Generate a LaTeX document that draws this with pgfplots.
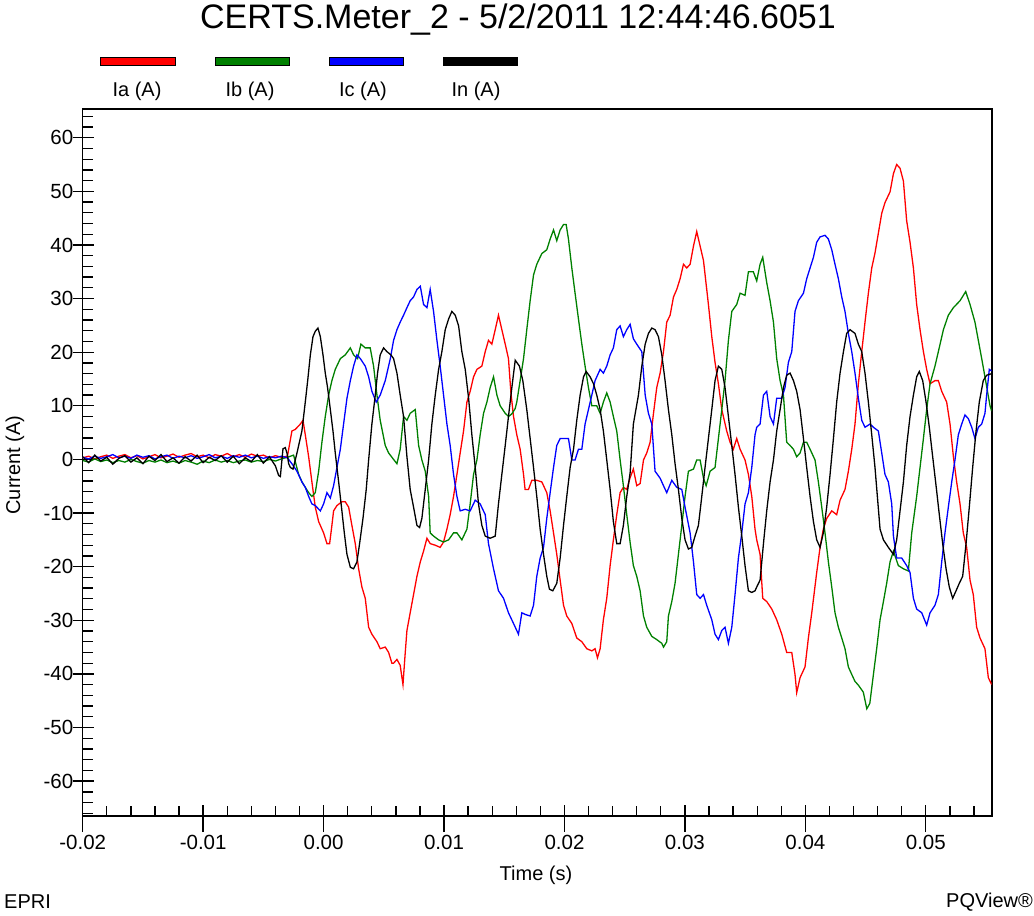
\documentclass[border=0pt]{standalone}
\usepackage{pgfplots}
\usepackage{pgfplotstable}
\pgfplotsset{compat=1.18}
\usepackage{fontspec}
\setmainfont{Liberation Sans}

\definecolor{phA}{RGB}{255,0,0}
\definecolor{phB}{RGB}{0,128,0}
\definecolor{phC}{RGB}{0,0,255}
\newcommand{\ticksize}{\fontsize{20.5}{24}\selectfont}

% Phase A current (s, A)
\pgfplotstableread{
t y
-0.0200 0.3
-0.0195 0.6
-0.0190 0.1
-0.0185 0.5
-0.0180 0.8
-0.0175 0.2
-0.0170 0.6
-0.0165 0.9
-0.0160 0.3
-0.0155 0.7
-0.0150 0.1
-0.0145 0.5
-0.0140 0.9
-0.0135 0.3
-0.0130 0.6
-0.0125 1.0
-0.0120 0.4
-0.0115 0.8
-0.0110 1.1
-0.0105 0.5
-0.0100 0.8
-0.0095 0.3
-0.0090 0.9
-0.0085 0.6
-0.0080 1.1
-0.0075 0.5
-0.0070 0.9
-0.0065 0.4
-0.0060 1.0
-0.0055 0.6
-0.0050 0.8
-0.0045 0.3
-0.0040 0.7
-0.0035 0.4
-0.0030 0.6
-0.00263 5.3
-0.00235 5.6
-0.00193 6.6
-0.00171 7.3
-0.00152 4.6
-0.00124 0.5
-0.00097 -4.2
-0.00069 -8.9
-0.00041 -11.6
0.00000 -13.7
0.00028 -15.7
0.00050 -15.7
0.00069 -12.3
0.00083 -9.6
0.00111 -8.6
0.00152 -7.9
0.00180 -7.9
0.00208 -8.9
0.00235 -12.3
0.00263 -15.7
0.00291 -20.4
0.00318 -23.8
0.00346 -25.9
0.00374 -31.3
0.00401 -32.6
0.00443 -34.0
0.00470 -35.3
0.00512 -35.0
0.00540 -36.0
0.00567 -38.0
0.00581 -38.0
0.00609 -37.3
0.00636 -38.4
0.00659 -42.0
0.00678 -36.0
0.00692 -31.9
0.00719 -28.6
0.00747 -25.2
0.00775 -21.8
0.00803 -19.1
0.00830 -17.1
0.00858 -14.7
0.00885 -15.7
0.00927 -16.0
0.00968 -16.4
0.00996 -15.4
0.01024 -13.0
0.01051 -10.3
0.01079 -6.9
0.01107 -2.8
0.01134 1.2
0.01162 5.3
0.01190 10.7
0.01217 12.7
0.01245 15.4
0.01273 16.8
0.01314 17.4
0.01342 20.1
0.01369 22.2
0.01397 21.5
0.01425 24.2
0.01452 26.9
0.01480 24.2
0.01508 21.5
0.01535 18.8
0.01555 12.5
0.01577 8.0
0.01604 4.6
0.01632 1.9
0.01660 -2.8
0.01673 -5.6
0.01701 -5.6
0.01729 -3.9
0.01770 -3.9
0.01812 -4.2
0.01853 -6.2
0.01881 -9.6
0.01909 -13.7
0.01936 -17.7
0.01964 -22.5
0.01992 -27.2
0.02019 -29.2
0.02061 -30.6
0.02102 -33.3
0.02144 -34.0
0.02185 -35.3
0.02227 -35.7
0.02254 -35.3
0.02274 -37.0
0.02296 -35.3
0.02323 -29.9
0.02351 -25.9
0.02379 -19.8
0.02406 -15.0
0.02434 -10.3
0.02462 -6.2
0.02489 -5.2
0.02517 -5.6
0.02545 -3.4
0.02572 -1.8
0.02600 -4.9
0.02628 -4.5
0.02656 -0.1
0.02683 1.2
0.02711 3.2
0.02739 8.6
0.02766 13.4
0.02794 16.1
0.02822 20.1
0.02849 25.6
0.02877 26.9
0.02905 30.3
0.02932 31.7
0.02960 33.7
0.02988 36.4
0.03015 35.7
0.03043 36.4
0.03071 39.8
0.03098 42.5
0.03126 39.8
0.03154 37.1
0.03195 28.9
0.03223 22.9
0.03250 18.1
0.03278 14.1
0.03306 9.3
0.03347 5.3
0.03375 3.2
0.03402 1.9
0.03430 3.9
0.03458 1.9
0.03499 -0.1
0.03527 -2.8
0.03555 -6.9
0.03582 -13.0
0.03596 -15.0
0.03624 -17.7
0.03646 -25.9
0.03679 -26.5
0.03721 -27.9
0.03762 -29.9
0.03804 -32.6
0.03845 -36.0
0.03887 -36.0
0.03914 -40.1
0.03928 -43.5
0.03956 -40.7
0.03997 -38.7
0.04025 -33.3
0.04053 -28.6
0.04094 -21.1
0.04122 -16.4
0.04149 -13.0
0.04177 -11.0
0.04219 -9.6
0.04260 -10.3
0.04288 -7.6
0.04329 -5.6
0.04357 -2.2
0.04385 1.9
0.04412 6.6
0.04440 14.1
0.04468 20.1
0.04495 25.6
0.04523 31.0
0.04551 35.7
0.04578 38.5
0.04634 45.9
0.04661 47.9
0.04703 49.9
0.04731 53.3
0.04758 55.0
0.04786 54.3
0.04814 51.9
0.04841 44.5
0.04869 40.5
0.04897 35.7
0.04924 28.9
0.04952 24.2
0.04980 20.1
0.05007 16.8
0.05035 14.1
0.05076 14.7
0.05104 14.7
0.05132 12.7
0.05173 10.7
0.05201 6.6
0.05229 0.5
0.05256 -4.2
0.05284 -8.3
0.05311 -13.7
0.05339 -16.4
0.05367 -22.5
0.05394 -25.2
0.05422 -31.3
0.05450 -33.3
0.05491 -35.3
0.05519 -40.7
0.05547 -42.0
}\tabIa

% Phase B current (s, A)
\pgfplotstableread{
t y
-0.0200 -0.2
-0.0195 -0.5
-0.0190 0.1
-0.0185 -0.4
-0.0180 -0.1
-0.0175 -0.6
-0.0170 -0.2
-0.0165 -0.5
-0.0160 0.0
-0.0155 -0.4
-0.0150 -0.7
-0.0145 -0.2
-0.0140 -0.5
-0.0135 -0.1
-0.0130 -0.6
-0.0125 -0.3
-0.0120 -0.7
-0.0115 -0.2
-0.0110 -0.5
-0.0105 -0.9
-0.0100 -0.3
-0.0095 -0.6
-0.0090 -0.1
-0.0085 -0.5
-0.0080 -0.2
-0.0075 -0.6
-0.0070 -0.3
-0.0065 -0.1
-0.0060 -0.5
-0.0055 -0.2
-0.0050 -0.4
-0.0045 0.0
-0.0040 -0.3
-0.0035 0.1
-0.0030 0.4
-0.00249 0.8
-0.00207 -2.8
-0.00179 -4.2
-0.00152 -5.2
-0.00124 -6.2
-0.00097 -6.9
-0.00069 -6.2
-0.00041 -2.2
-0.00014 3.2
0.00014 8.0
0.00042 12.0
0.00069 14.7
0.00097 16.8
0.00139 18.8
0.00180 19.5
0.00222 20.8
0.00249 19.5
0.00282 18.8
0.00310 21.5
0.00346 20.8
0.00387 20.8
0.00415 17.4
0.00443 12.0
0.00470 7.3
0.00512 2.6
0.00540 1.2
0.00581 0.0
0.00609 -0.8
0.00636 1.9
0.00664 8.0
0.00692 7.3
0.00719 8.6
0.00761 9.3
0.00789 2.6
0.00816 -0.1
0.00844 -2.2
0.00872 -6.9
0.00885 -13.7
0.00913 -14.3
0.00955 -15.0
0.00996 -15.4
0.01038 -15.0
0.01079 -13.7
0.01107 -13.7
0.01148 -15.0
0.01190 -13.0
0.01217 -8.3
0.01245 -2.8
0.01273 -0.1
0.01300 4.6
0.01328 8.6
0.01356 10.7
0.01383 13.4
0.01411 15.4
0.01439 12.0
0.01466 10.0
0.01508 8.6
0.01535 8.0
0.01563 8.5
0.01591 9.5
0.01604 10.7
0.01632 14.7
0.01660 18.8
0.01687 24.2
0.01715 29.6
0.01743 34.4
0.01770 36.4
0.01812 38.4
0.01853 39.1
0.01881 41.1
0.01909 42.8
0.01936 40.8
0.01964 42.8
0.01992 43.8
0.02014 43.8
0.02033 41.1
0.02061 35.7
0.02088 31.0
0.02116 26.2
0.02144 21.5
0.02171 17.4
0.02199 13.4
0.02227 10.0
0.02268 10.0
0.02296 8.6
0.02323 10.7
0.02351 12.4
0.02379 10.7
0.02406 8.0
0.02434 5.3
0.02462 -0.1
0.02489 -4.9
0.02517 -10.3
0.02545 -15.5
0.02572 -19.8
0.02600 -21.8
0.02628 -24.5
0.02656 -29.2
0.02683 -31.3
0.02725 -33.0
0.02766 -33.6
0.02808 -34.3
0.02822 -35.0
0.02849 -34.0
0.02863 -29.2
0.02891 -26.5
0.02918 -23.1
0.02946 -17.7
0.02974 -12.3
0.03001 -6.9
0.03029 -2.2
0.03071 -1.8
0.03098 -0.1
0.03126 -0.1
0.03154 -3.5
0.03176 -4.9
0.03209 -2.2
0.03250 -1.5
0.03278 3.9
0.03306 9.3
0.03333 14.7
0.03361 22.2
0.03389 27.6
0.03430 28.9
0.03458 31.0
0.03499 30.6
0.03527 35.0
0.03568 35.0
0.03596 33.3
0.03624 36.4
0.03646 37.7
0.03679 33.0
0.03707 29.6
0.03735 25.6
0.03762 18.8
0.03790 14.7
0.03818 12.0
0.03845 3.2
0.03873 2.6
0.03901 1.9
0.03928 0.5
0.03956 1.2
0.03984 3.2
0.04011 3.2
0.04039 1.9
0.04080 -0.1
0.04108 -4.2
0.04136 -8.9
0.04163 -13.7
0.04191 -19.1
0.04219 -23.8
0.04246 -28.6
0.04274 -31.3
0.04302 -33.3
0.04329 -35.3
0.04357 -38.7
0.04385 -40.1
0.04412 -41.4
0.04440 -42.1
0.04481 -43.4
0.04510 -46.5
0.04535 -45.5
0.04565 -40.1
0.04592 -35.3
0.04620 -29.9
0.04648 -26.5
0.04675 -23.1
0.04703 -19.1
0.04731 -17.1
0.04772 -19.8
0.04814 -20.4
0.04855 -20.8
0.04883 -13.7
0.04924 -6.9
0.04952 -1.5
0.04980 3.9
0.05007 9.3
0.05035 14.1
0.05076 17.4
0.05104 20.1
0.05146 24.2
0.05187 26.9
0.05229 28.3
0.05284 29.6
0.05331 31.3
0.05367 28.9
0.05408 25.6
0.05436 22.2
0.05464 18.8
0.05491 15.4
0.05533 10.0
0.05547 9.0
}\tabIb

% Phase C current (s, A)
\pgfplotstableread{
t y
-0.0200 0.4
-0.0195 0.1
-0.0190 0.6
-0.0185 0.2
-0.0180 0.5
-0.0175 0.9
-0.0170 0.3
-0.0165 0.6
-0.0160 0.2
-0.0155 0.8
-0.0150 0.4
-0.0145 0.7
-0.0140 0.1
-0.0135 0.5
-0.0130 0.8
-0.0125 0.2
-0.0120 0.6
-0.0115 0.3
-0.0110 0.7
-0.0105 0.2
-0.0100 0.5
-0.0095 0.9
-0.0090 0.3
-0.0085 0.6
-0.0080 0.2
-0.0075 0.7
-0.0070 0.4
-0.0065 0.8
-0.0060 0.3
-0.0055 0.6
-0.0050 0.2
-0.0045 0.5
-0.0040 0.3
-0.0035 0.6
-0.0030 0.3
-0.00263 -0.8
-0.00221 -2.2
-0.00180 -4.2
-0.00152 -5.2
-0.00124 -6.9
-0.00097 -8.3
-0.00069 -8.6
-0.00027 -9.6
0.00000 -8.3
0.00028 -6.2
0.00056 -7.2
0.00083 -4.9
0.00111 -1.5
0.00139 1.9
0.00166 6.6
0.00194 11.4
0.00222 14.7
0.00249 17.4
0.00277 19.5
0.00305 18.8
0.00346 17.4
0.00374 15.4
0.00401 12.7
0.00437 10.7
0.00470 12.0
0.00512 14.7
0.00554 18.8
0.00581 22.2
0.00609 24.2
0.00636 25.6
0.00664 26.9
0.00692 28.3
0.00719 29.6
0.00747 30.3
0.00775 31.7
0.00803 32.3
0.00830 28.9
0.00858 28.3
0.00885 31.7
0.00913 27.6
0.00941 22.2
0.00968 17.4
0.00996 12.0
0.01024 6.6
0.01051 2.6
0.01079 -2.8
0.01107 -6.9
0.01134 -9.6
0.01176 -9.3
0.01217 -9.6
0.01259 -7.6
0.01300 -8.3
0.01342 -10.3
0.01369 -15.7
0.01411 -20.4
0.01452 -24.5
0.01494 -25.9
0.01535 -28.6
0.01577 -30.6
0.01618 -32.6
0.01646 -28.6
0.01673 -28.9
0.01715 -29.2
0.01743 -27.2
0.01770 -21.8
0.01798 -18.4
0.01826 -16.4
0.01853 -11.0
0.01881 -6.2
0.01909 -1.5
0.01936 2.6
0.01964 3.9
0.02005 3.9
0.02033 3.9
0.02061 -0.1
0.02088 -0.1
0.02116 1.9
0.02144 1.9
0.02171 6.6
0.02199 9.3
0.02227 12.0
0.02254 14.7
0.02296 16.8
0.02323 16.1
0.02351 17.4
0.02379 19.5
0.02406 20.8
0.02434 24.2
0.02462 24.9
0.02489 22.9
0.02517 24.2
0.02545 25.2
0.02572 22.5
0.02600 21.5
0.02642 20.1
0.02670 12.0
0.02697 8.6
0.02725 6.6
0.02752 -2.2
0.02794 -3.5
0.02822 -4.9
0.02849 -6.2
0.02891 -3.9
0.02932 -5.2
0.02974 -5.6
0.03001 -8.9
0.03043 -13.7
0.03071 -19.1
0.03098 -25.2
0.03126 -25.9
0.03154 -25.2
0.03181 -27.2
0.03223 -29.9
0.03250 -32.6
0.03278 -33.6
0.03306 -31.9
0.03333 -31.3
0.03361 -34.3
0.03389 -31.3
0.03416 -25.2
0.03444 -18.4
0.03472 -13.7
0.03499 -8.3
0.03527 -6.2
0.03555 -1.5
0.03582 4.6
0.03596 6.0
0.03624 6.6
0.03652 12.0
0.03679 12.7
0.03707 8.0
0.03735 6.6
0.03762 11.4
0.03804 11.4
0.03831 13.4
0.03859 18.1
0.03887 20.1
0.03914 27.6
0.03942 29.6
0.03984 31.0
0.04011 33.7
0.04039 35.7
0.04067 37.7
0.04094 40.5
0.04122 41.5
0.04163 41.8
0.04191 41.1
0.04219 39.1
0.04246 36.4
0.04274 33.7
0.04302 30.3
0.04329 27.6
0.04357 23.5
0.04385 20.1
0.04412 16.1
0.04440 11.4
0.04468 7.3
0.04495 6.0
0.04537 6.6
0.04565 6.0
0.04606 5.3
0.04634 1.2
0.04661 -2.8
0.04689 -4.2
0.04717 -8.3
0.04731 -14.3
0.04758 -18.4
0.04800 -18.4
0.04841 -19.8
0.04869 -21.1
0.04897 -25.9
0.04924 -27.9
0.04966 -28.6
0.05007 -30.9
0.05035 -28.6
0.05076 -27.2
0.05104 -25.2
0.05132 -19.1
0.05159 -13.7
0.05187 -8.9
0.05215 -4.2
0.05242 -0.1
0.05270 4.6
0.05298 6.6
0.05325 8.3
0.05353 7.6
0.05381 6.0
0.05408 3.9
0.05436 6.0
0.05464 6.6
0.05491 8.6
0.05505 12.0
0.05527 16.8
0.05547 16.5
}\tabIc

% Neutral current (s, A)
\pgfplotstableread{
t y
-0.0200 0.5
-0.0195 -0.6
-0.0190 0.8
-0.0185 -0.3
-0.0180 0.4
-0.0175 -0.9
-0.0170 0.2
-0.0165 0.7
-0.0160 -0.5
-0.0155 0.3
-0.0150 -0.8
-0.0145 0.6
-0.0140 -0.2
-0.0135 0.9
-0.0130 -0.4
-0.0125 0.3
-0.0120 -0.7
-0.0115 0.5
-0.0110 -0.3
-0.0105 0.8
-0.0100 -0.6
-0.0095 0.4
-0.0090 -0.2
-0.0085 0.7
-0.0080 -0.5
-0.0075 0.6
-0.0070 -0.8
-0.0065 0.3
-0.0060 -0.4
-0.0055 0.9
-0.0050 -0.7
-0.0045 0.5
-0.0040 -1.2
-0.00373 -3.0
-0.00359 -3.2
-0.00337 2.0
-0.00318 2.2
-0.00304 1.2
-0.00290 -0.8
-0.00276 -1.5
-0.00254 -1.8
-0.00235 -0.1
-0.00221 1.2
-0.00207 2.6
-0.00180 5.3
-0.00152 10.7
-0.00132 14.7
-0.00110 19.5
-0.00088 22.9
-0.00069 23.9
-0.00047 24.5
-0.00027 22.9
-0.00005 19.5
0.00014 16.1
0.00033 13.4
0.00056 9.3
0.00078 5.3
0.00097 1.2
0.00125 -4.2
0.00152 -9.6
0.00172 -13.7
0.00194 -17.7
0.00222 -20.1
0.00249 -20.4
0.00277 -19.1
0.00299 -15.7
0.00327 -11.0
0.00354 -5.6
0.00374 -0.1
0.00401 6.6
0.00429 12.0
0.00448 16.1
0.00470 19.5
0.00498 20.8
0.00526 20.1
0.00559 19.5
0.00581 18.8
0.00609 16.1
0.00636 12.0
0.00664 8.0
0.00692 0.5
0.00719 -5.6
0.00747 -8.9
0.00775 -12.3
0.00797 -12.7
0.00816 -11.0
0.00844 -5.6
0.00872 -0.1
0.00899 6.6
0.00927 12.0
0.00955 16.8
0.00982 20.1
0.01010 24.2
0.01038 26.2
0.01065 27.6
0.01093 26.9
0.01121 24.9
0.01148 20.1
0.01176 16.8
0.01204 11.4
0.01231 4.6
0.01259 -1.5
0.01286 -8.3
0.01314 -12.3
0.01342 -14.3
0.01383 -14.7
0.01425 -14.3
0.01452 -8.3
0.01480 -2.8
0.01508 2.6
0.01535 8.0
0.01563 13.4
0.01591 18.5
0.01626 17.4
0.01654 14.7
0.01687 9.3
0.01715 3.9
0.01743 -1.5
0.01770 -6.9
0.01798 -13.0
0.01826 -17.7
0.01853 -21.8
0.01875 -24.2
0.01903 -24.5
0.01936 -23.1
0.01964 -18.4
0.01992 -12.3
0.02019 -6.9
0.02047 -1.5
0.02075 1.9
0.02102 7.3
0.02130 12.0
0.02158 15.4
0.02180 16.4
0.02213 15.4
0.02241 14.1
0.02268 12.0
0.02296 9.3
0.02323 5.3
0.02351 -0.1
0.02379 -5.6
0.02406 -11.6
0.02434 -15.7
0.02462 -15.7
0.02489 -12.3
0.02517 -6.9
0.02545 -2.5
0.02572 6.6
0.02614 12.0
0.02642 17.4
0.02670 21.5
0.02697 23.5
0.02725 24.5
0.02752 24.2
0.02780 22.9
0.02808 19.5
0.02835 14.7
0.02863 9.3
0.02891 4.6
0.02918 -0.8
0.02946 -5.6
0.02974 -11.0
0.03001 -15.0
0.03029 -16.7
0.03057 -16.4
0.03084 -14.3
0.03112 -12.3
0.03140 -6.9
0.03167 -1.5
0.03195 3.9
0.03223 9.3
0.03250 14.7
0.03278 17.4
0.03306 16.8
0.03333 13.4
0.03361 8.0
0.03389 2.6
0.03416 -2.8
0.03444 -8.9
0.03472 -14.3
0.03499 -19.8
0.03527 -24.5
0.03555 -24.8
0.03582 -24.5
0.03596 -23.8
0.03624 -22.5
0.03652 -15.7
0.03679 -9.6
0.03707 -4.2
0.03735 -0.1
0.03762 5.3
0.03790 9.3
0.03818 13.4
0.03845 15.7
0.03873 16.1
0.03901 14.7
0.03928 12.7
0.03956 9.3
0.03984 3.9
0.04011 -1.5
0.04039 -6.9
0.04067 -11.6
0.04094 -15.0
0.04122 -16.4
0.04149 -13.7
0.04177 -8.9
0.04205 -2.8
0.04233 3.9
0.04260 10.7
0.04288 16.1
0.04316 20.1
0.04343 23.5
0.04371 24.2
0.04412 23.5
0.04440 21.5
0.04468 20.1
0.04495 16.1
0.04523 10.7
0.04551 4.6
0.04578 -1.5
0.04620 -13.0
0.04648 -15.0
0.04689 -16.4
0.04731 -17.7
0.04758 -15.0
0.04786 -9.6
0.04814 -4.2
0.04841 2.6
0.04869 8.0
0.04897 12.0
0.04924 15.4
0.04946 16.4
0.04974 14.7
0.05002 10.7
0.05029 6.0
0.05057 0.5
0.05085 -4.9
0.05112 -10.3
0.05140 -15.7
0.05168 -20.4
0.05195 -23.8
0.05223 -25.9
0.05251 -24.5
0.05278 -23.1
0.05306 -21.8
0.05334 -15.7
0.05361 -8.9
0.05389 -1.5
0.05417 5.3
0.05444 10.7
0.05477 14.7
0.05505 15.7
0.05547 16.0
}\tabIn

\begin{document}
\begin{tikzpicture}[x=1pt,y=1pt]
\begin{axis}[
  name=ax,
  scale only axis, width=909pt, height=706.7pt,
  xmin=-0.02, xmax=0.05547, ymin=-66.5, ymax=65.3,
  scaled x ticks=false, scaled y ticks=false,
  axis line style={line width=1.6pt},
  tick pos=left,
  tick align=inside,
  major tick length=11pt, minor tick length=10pt,
  major tick style={line width=1.3pt, black},
  minor tick style={line width=1.3pt, black},
  xtick={-0.02,-0.01,0,0.01,0.02,0.03,0.04,0.05},
  xticklabels={-0.02,-0.01,0.00,0.01,0.02,0.03,0.04,0.05},
  minor xtick={-0.018,-0.016,-0.014,-0.012,-0.008,-0.006,-0.004,-0.002,
    0.002,0.004,0.006,0.008,0.012,0.014,0.016,0.018,0.022,0.024,0.026,0.028,
    0.032,0.034,0.036,0.038,0.042,0.044,0.046,0.048,0.052,0.054},
  ytick={-60,-50,-40,-30,-20,-10,0,10,20,30,40,50,60},
  yticklabels={-60,-50,-40,-30,-20,-10,0,10,20,30,40,50,60},
  minor ytick={-66,-64,-62,-58,-56,-54,-52,-48,-46,-44,-42,-38,-36,-34,-32,
    -28,-26,-24,-22,-18,-16,-14,-12,-8,-6,-4,-2,2,4,6,8,12,14,16,18,
    22,24,26,28,32,34,36,38,42,44,46,48,52,54,56,58,62,64},
  extra x ticks={-0.02,-0.01,0,0.01,0.02,0.03,0.04,0.05},
  extra x tick labels={},
  extra x tick style={tick align=outside, major tick length=16pt},
  extra y ticks={-60,-50,-40,-30,-20,-10,0,10,20,30,40,50,60},
  extra y tick labels={},
  extra y tick style={tick align=outside, major tick length=10pt},
  tick label style={font=\ticksize},
  xticklabel style={yshift=-16pt},
  yticklabel style={xshift=-6pt},
]
\addplot[phA,   line width=1.3pt] table[x=t,y=y] {\tabIa};
\addplot[phB,   line width=1.3pt] table[x=t,y=y] {\tabIb};
\addplot[phC,   line width=1.3pt] table[x=t,y=y] {\tabIc};
\addplot[black, line width=1.3pt] table[x=t,y=y] {\tabIn};
\coordinate (O) at (rel axis cs:0,0);
\end{axis}

% page frame: plot area's lower left corner sits 82.7pt from the left, 100pt from the bottom
\begin{scope}[shift={(O)}, shift={(-82.7,-100)}]
  \node[font=\fontsize{34}{40}\selectfont, inner sep=0pt] at (518,896.5)
    {CERTS.Meter\_2 - 5/2/2011 12:44:46.6051};
  \draw[line width=1pt, fill=phA]   (101,850.5) rectangle (175,858.5);
  \draw[line width=1pt, fill=phB]   (215,850.5) rectangle (289,858.5);
  \draw[line width=1pt, fill=phC]   (329,850.5) rectangle (403,858.5);
  \draw[line width=1pt, fill=black] (443,850.5) rectangle (517,858.5);
  \begin{scope}[every node/.style={font=\fontsize{20}{24}\selectfont, inner sep=0pt}]
    \node at (137,825) {Ia (A)};
    \node at (250,825) {Ib (A)};
    \node at (363,825) {Ic (A)};
    \node at (476,825) {In (A)};
    \node[rotate=90] at (15,451) {Current (A)};
    \node at (536,41) {Time (s)};
    \node[anchor=west] at (4,14) {EPRI};
    \node[anchor=east] at (1033,14) {PQView®};
  \end{scope}
\end{scope}
\pgfresetboundingbox
\path[use as bounding box, shift={(O)}, shift={(-82.7,-100)}] (0,0) rectangle (1034,916);
\end{tikzpicture}
\end{document}
